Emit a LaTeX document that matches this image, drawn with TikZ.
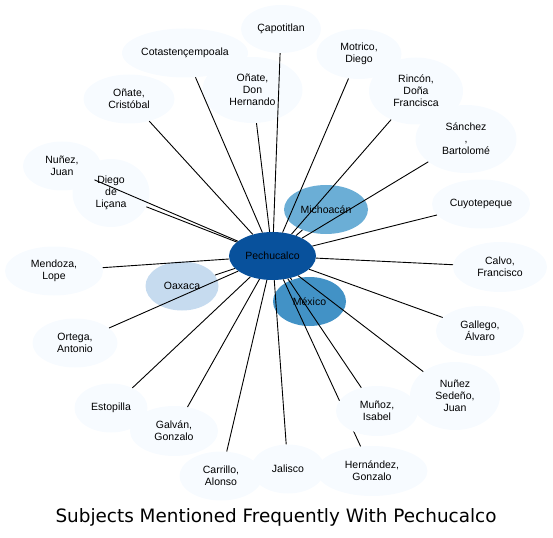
\documentclass[tikz,border=0pt]{standalone}
\usepackage{fontspec}
\setmainfont{Liberation Sans}
\newfontfamily\titlefont{DejaVu Sans}
\usetikzlibrary{shapes.geometric,positioning}
\definecolor{palebl}{HTML}{F7FBFF}
\definecolor{oaxbl}{HTML}{C6DBEF}
\definecolor{michbl}{HTML}{6BAED6}
\definecolor{mexbl}{HTML}{4292C6}
\definecolor{pechbl}{HTML}{08519C}
\tikzset{basic/.style={ellipse,inner sep=0pt,align=center,font=\fontsize{10.5}{12}\selectfont}}
\tikzset{subj/.style={basic,fill=palebl}}
\tikzset{place/.style={basic,fill=#1}}
\tikzset{link/.style={draw,line width=0.9pt}}
\tikzset{sz/.style 2 args={minimum width=#1pt,minimum height=#2pt}}

\begin{document}
\begin{tikzpicture}[x=1pt,y=-1pt]
    \useasboundingbox (0,0) rectangle (553,537);
    \node[place=pechbl,sz={87}{48}] (pech) at (272.5,256) {Pechucalco};

    \node[subj,sz={80}{48}] (capo) at (281,29) {Çapotitlan};
    \node[subj,sz={126}{49}] (cota) at (185,53) {Cotastençempoala};
    \node[subj,sz={100}{66}] (donher) at (252.5,90) {Oñate,\\Don\\Hernando};
    \node[subj,sz={91}{49}] (crist) at (129,99) {Oñate,\\Cristóbal};
    \node[subj,sz={78}{49}] (nunezj) at (62,166) {Nuñez,\\Juan};
    \node[subj,sz={77}{68}] (diego) at (111,193) {Diego\\de\\Liçana};
    \node[subj,sz={85}{50}] (motr) at (359,54) {Motrico,\\Diego};
    \node[subj,sz={94}{67}] (rincon) at (416,91) {Rincón,\\Doña\\Francisca};
    \node[subj,sz={101}{68}] (sanch) at (466,139) {Sánchez\\,\\Bartolomé};
    \node[subj,sz={98}{49}] (cuyo) at (481,204) {Cuyotepeque};
    \node[place=michbl,sz={84}{49}] (mich) at (326,209.5) {Michoacán};
    \node[subj,sz={98}{49}] (mend) at (54,271) {Mendoza,\\Lope};
    \node[place=oaxbl,sz={73}{49}] (oax) at (182,286) {Oaxaca};
    \node[subj,sz={85}{49}] (ortega) at (75,343) {Ortega,\\Antonio};
    \node[subj,sz={73}{49}] (estop) at (111,408) {Estopilla};
    \node[subj,sz={88}{50}] (galvan) at (174,431) {Galván,\\Gonzalo};
    \node[subj,sz={83}{49}] (carr) at (221,476) {Carrillo,\\Alonso};
    \node[subj,sz={74}{49}] (jal) at (288,469) {Jalisco};
    \node[subj,sz={111}{50}] (hern) at (372,471) {Hernández,\\Gonzalo};
    \node[subj,sz={90}{68}] (sedeno) at (455,396) {Nuñez\\Sedeño,\\Juan};
    \node[subj,sz={88}{50}] (gallego) at (480,331) {Gallego,\\Álvaro};
    \node[subj,sz={94}{50}] (calvo) at (500,267) {Calvo,\\Francisco};
    \node[place=mexbl,sz={73}{49}] (mex) at (309.5,301.5) {México};

    % this one runs under Muñoz
    \path[link] (pech) -- (hern);
    \node[subj,sz={82}{50}] (munoz) at (377,411) {Muñoz,\\Isabel};

    \foreach \t in {capo,cota,donher,crist,nunezj,diego,motr,rincon,sanch,cuyo,mich,
        mend,oax,ortega,estop,galvan,carr,jal,munoz,sedeno,gallego,calvo,mex}
        \path[link] (pech) -- (\t);

    \node[anchor=base,font=\titlefont\fontsize{18.4}{20}\selectfont] (title) at (276,522)
        {Subjects Mentioned Frequently With Pechucalco};
\end{tikzpicture}
\end{document}
